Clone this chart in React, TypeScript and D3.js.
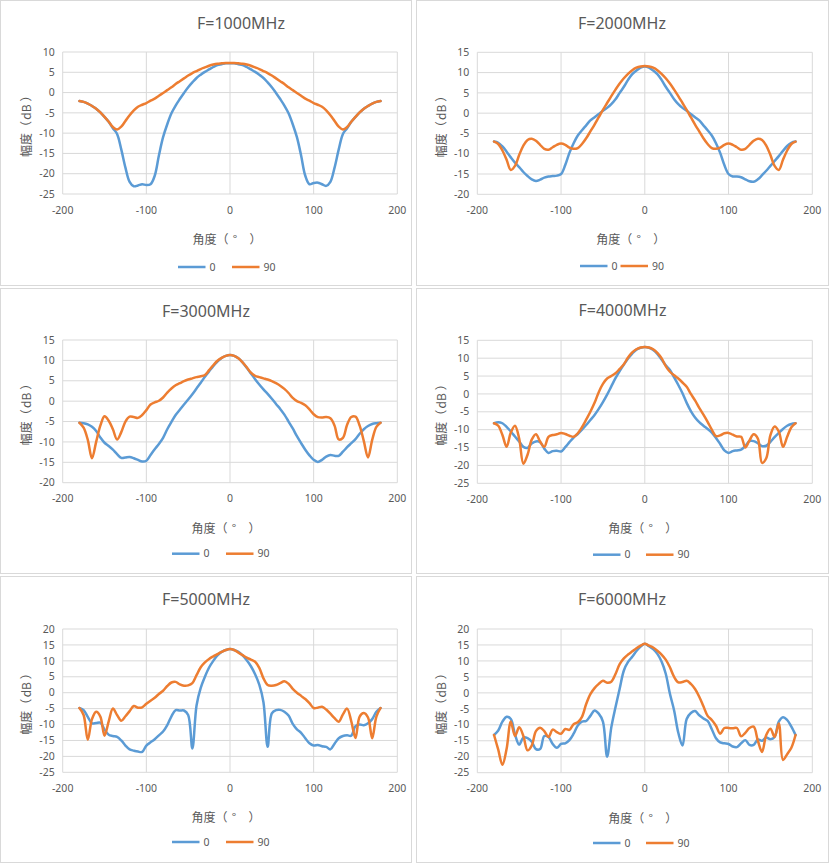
import { useEffect, useRef } from 'react';
import * as d3 from 'd3';

// sample angles (deg), shared by every series
const angles = [
  -180, -175, -170, -165, -160, -155, -150, -145, -140, -135,
  -130, -125, -120, -115, -110, -105, -100, -95, -90, -85,
  -80, -75, -70, -65, -60, -55, -50, -45, -40, -35,
  -30, -25, -20, -15, -10, -5, 0,
  5, 10, 15, 20, 25, 30, 35, 40, 45, 50,
  55, 60, 65, 70, 75, 80, 85, 90, 95, 100,
  105, 110, 115, 120, 125, 130, 135, 140, 145, 150,
  155, 160, 165, 170, 175, 180,
];

const titles = ['F=1000MHz', 'F=2000MHz', 'F=3000MHz', 'F=4000MHz', 'F=5000MHz', 'F=6000MHz'];
const seriesNames = ['0', '90'];
const xTicks = [-200, -100, 0, 100, 200];
const yDomains: [number, number][] = [
  [-25, 10],
  [-20, 15],
  [-20, 15],
  [-25, 15],
  [-25, 20],
  [-25, 20],
];
// axis titles, split into glyphs so the full-width brackets keep their width
const xLabelGlyphs = ['角', '度', '（', '°', '）'];
const yLabelGlyphs = ['幅', '度', '（', 'dB', '）'];

const pol0_1000 = [
  -2.1, -2.3, -2.7, -3.3, -4.0, -4.9, -6.0, -7.2, -8.8, -10.2,
  -14.0, -18.5, -22.0, -23.1, -22.9, -22.6, -22.8, -22.6, -20.5, -15.5,
  -11.0, -7.8, -5.1, -3.2, -1.6, -0.1, 1.3, 2.5, 3.6, 4.4,
  5.1, 5.7, 6.3, 6.8, 7.0, 7.2, 7.2,
  7.2, 7.0, 6.8, 6.3, 5.7, 5.1, 4.4, 3.6, 2.5, 1.3,
  -0.1, -1.6, -3.2, -5.1, -7.8, -11.0, -15.5, -20.5, -22.6, -22.3,
  -22.2, -22.6, -23.0, -22.0, -18.5, -14.0, -10.2, -8.8, -7.2, -6.0,
  -4.9, -4.0, -3.3, -2.7, -2.3, -2.1,
];
const pol90_1000 = [
  -2.1, -2.3, -2.7, -3.3, -4.0, -4.9, -6.0, -7.2, -8.5, -9.1,
  -8.4, -7.0, -5.6, -4.4, -3.5, -3.0, -2.6, -2.0, -1.5, -0.8,
  -0.1, 0.6, 1.3, 2.1, 2.8, 3.5, 4.2, 4.8, 5.3, 5.8,
  6.2, 6.6, 6.9, 7.1, 7.2, 7.3, 7.3,
  7.3, 7.2, 7.1, 6.9, 6.6, 6.2, 5.8, 5.3, 4.8, 4.2,
  3.5, 2.8, 2.1, 1.3, 0.6, -0.1, -0.8, -1.5, -2.0, -2.6,
  -3.0, -3.5, -4.4, -5.6, -7.0, -8.4, -9.1, -8.5, -7.2, -6.0,
  -4.9, -4.0, -3.3, -2.7, -2.3, -2.1,
];

const pol0_2000 = [
  -7.0, -7.3, -8.2, -9.5, -10.9, -12.2, -13.3, -14.5, -15.5, -16.3,
  -16.7, -16.4, -15.9, -15.6, -15.5, -15.4, -15.0, -12.8, -9.8, -7.4,
  -5.5, -4.2, -3.0, -1.8, -1.0, -0.2, 0.6, 1.3, 2.2, 3.4,
  5.0, 6.5, 8.2, 9.6, 10.5, 11.2, 11.5,
  11.2, 10.5, 9.6, 8.2, 6.5, 5.0, 3.4, 2.2, 1.3, 0.6,
  -0.2, -1.0, -1.8, -3.0, -4.2, -5.5, -7.4, -9.8, -12.8, -15.0,
  -15.6, -15.6, -15.8, -16.3, -16.8, -16.9, -16.3, -15.3, -14.2, -13.0,
  -11.8, -10.6, -9.3, -8.1, -7.3, -7.0,
];
const pol90_2000 = [
  -7.0, -7.6, -9.2, -11.5, -14.0, -13.0, -10.3, -8.0, -6.6, -6.3,
  -6.8, -7.8, -8.8, -9.0, -8.4, -7.8, -7.5, -7.8, -8.5, -8.8,
  -8.6, -7.6, -6.2, -4.5, -2.8, -1.0, 0.8, 2.5, 4.2, 5.8,
  7.3, 8.6, 9.7, 10.6, 11.2, 11.5, 11.6,
  11.5, 11.2, 10.6, 9.7, 8.6, 7.3, 5.8, 4.2, 2.5, 0.8,
  -1.0, -2.8, -4.5, -6.2, -7.6, -8.6, -8.8, -8.5, -7.8, -7.5,
  -7.8, -8.4, -9.0, -8.8, -7.8, -6.8, -6.3, -6.6, -8.0, -10.3,
  -13.0, -14.0, -11.5, -9.2, -7.6, -7.0,
];

const pol0_3000 = [
  -5.3, -5.4, -5.7, -6.3, -7.3, -8.9, -10.2, -11.0, -11.9, -13.0,
  -13.9, -13.8, -13.7, -14.0, -14.4, -14.8, -14.6, -13.2, -11.8, -10.5,
  -9.0, -6.9, -5.1, -3.4, -2.1, -0.8, 0.4, 1.7, 3.1, 4.5,
  6.0, 7.3, 8.6, 9.7, 10.6, 11.1, 11.3,
  11.1, 10.5, 9.5, 8.2, 6.8, 5.4, 4.1, 2.9, 1.8, 0.6,
  -0.7, -1.9, -3.3, -5.0, -6.7, -8.6, -10.3, -11.9, -13.3, -14.4,
  -14.9, -14.4, -13.6, -13.2, -13.4, -13.4, -12.4, -11.3, -10.3, -9.3,
  -8.0, -6.9, -6.1, -5.6, -5.4, -5.3,
];
const pol90_3000 = [
  -5.3, -6.5, -9.5, -14.0, -10.0, -6.0, -3.7, -4.8, -6.9, -9.4,
  -7.6, -5.0, -3.8, -3.9, -4.1, -3.4, -2.2, -0.8, -0.3, 0.1,
  0.9, 2.1, 3.1, 3.9, 4.4, 4.9, 5.3, 5.6, 5.9, 6.1,
  6.4, 7.6, 8.8, 9.9, 10.6, 11.1, 11.3,
  11.1, 10.5, 9.5, 8.3, 7.0, 6.2, 5.9, 5.6, 5.3, 4.9,
  4.4, 3.8, 3.0, 2.0, 0.8, 0.0, -0.4, -1.0, -2.0, -3.2,
  -3.9, -4.0, -3.9, -4.2, -6.0, -9.4, -9.0, -5.8, -3.9, -3.8,
  -6.0, -9.8, -13.8, -9.5, -6.3, -5.3,
];

const pol0_4000 = [
  -8.2, -7.9, -8.2, -9.2, -10.5, -11.9, -13.3, -14.8, -15.1, -13.9,
  -13.3, -13.5, -15.3, -16.5, -16.0, -15.9, -16.1, -14.9, -13.5, -12.2,
  -11.2, -10.0, -8.7, -7.3, -5.9, -4.2, -2.3, -0.2, 2.1, 4.4,
  6.4, 8.2, 9.9, 11.3, 12.4, 12.9, 13.1,
  12.9, 12.3, 11.2, 9.6, 8.0, 6.7, 4.6, 2.5, 0.2, -2.5,
  -4.8, -6.6, -7.9, -8.9, -9.8, -10.8, -12.3, -14.0, -15.8, -16.5,
  -16.0, -15.8, -15.6, -14.6, -13.2, -13.2, -13.8, -14.6, -14.5, -13.4,
  -12.1, -10.9, -9.8, -8.9, -8.4, -8.2,
];
const pol90_4000 = [
  -8.2, -8.9, -11.5, -14.8, -10.8, -8.9, -12.5, -19.5, -17.0, -12.8,
  -11.3, -13.3, -14.8, -12.0, -11.5, -11.3, -10.9, -11.2, -11.7, -12.0,
  -11.0, -9.3, -7.2, -5.0, -2.5, 0.5, 2.8, 4.3, 5.0, 5.8,
  7.0, 8.3, 10.2, 11.6, 12.5, 13.0, 13.1,
  13.0, 12.5, 11.5, 10.0, 7.8, 6.2, 5.2, 4.3, 3.2, 2.0,
  0.0, -1.8, -3.9, -5.8, -7.8, -10.0, -11.8, -11.6, -11.0, -10.9,
  -11.4, -11.9, -12.0, -15.0, -13.0, -11.3, -12.5, -19.3, -18.0, -11.5,
  -9.1, -10.5, -14.8, -12.0, -9.3, -8.2,
];

const pol0_5000 = [
  -4.8, -5.5, -7.6, -9.6, -9.5, -9.4, -11.6, -13.2, -13.6, -13.9,
  -15.0, -16.6, -17.8, -18.2, -18.5, -18.6, -16.6, -15.6, -14.6, -13.4,
  -12.2, -10.2, -7.4, -5.5, -5.6, -5.6, -7.0, -17.5, -4.0, 1.5,
  5.0, 7.9, 10.0, 11.7, 12.8, 13.4, 13.7,
  13.4, 12.8, 11.7, 10.2, 8.3, 5.8, 2.5, -3.0, -17.0, -6.5,
  -5.5, -5.4, -6.0, -7.2, -9.8, -11.5, -12.6, -14.3, -15.9, -16.6,
  -16.4, -16.8, -17.0, -17.8, -16.0, -14.3, -13.6, -13.4, -13.5, -10.5,
  -10.0, -10.2, -9.6, -8.3, -6.0, -4.8,
];
const pol90_5000 = [
  -4.8, -7.0, -14.8, -8.3, -6.0, -7.5, -13.5, -9.0, -5.0, -7.0,
  -8.8, -7.4, -5.8, -4.2, -4.7, -4.6, -3.5, -2.5, -1.6, -0.4,
  0.6, 2.1, 3.2, 3.4, 2.6, 2.2, 2.3, 3.0, 5.5, 8.0,
  9.5, 10.6, 11.4, 12.1, 12.8, 13.4, 13.7,
  13.4, 12.6, 11.8, 11.0, 10.4, 9.7, 7.8, 4.5, 2.4, 2.2,
  2.4, 3.0, 3.6, 2.8, 1.2, 0.0, -1.0, -2.0, -3.3, -4.8,
  -4.7, -4.4, -5.3, -6.6, -8.0, -9.1, -6.8, -5.0, -9.0, -14.2,
  -7.5, -6.4, -7.8, -14.3, -7.5, -4.8,
];

const pol0_6000 = [
  -13.2, -11.8, -9.0, -7.5, -8.2, -13.0, -16.2, -14.0, -14.2, -15.3,
  -17.6, -17.6, -13.5, -13.8, -16.0, -17.2, -16.0, -15.8, -14.8, -12.8,
  -10.2, -9.0, -8.8, -7.2, -5.5, -6.5, -9.0, -20.0, -10.8, -4.5,
  1.3, 7.0, 9.7, 11.3, 13.1, 14.5, 15.4,
  14.6, 13.7, 12.2, 9.8, 6.0, -0.3, -5.5, -12.5, -16.5, -8.2,
  -6.3, -5.7, -7.0, -8.0, -8.8, -11.4, -14.2, -15.5, -15.8, -16.0,
  -16.8, -17.0, -15.8, -14.8, -16.3, -16.3, -14.6, -15.0, -14.0, -14.5,
  -13.8, -9.0, -7.6, -8.5, -10.6, -13.2,
];
const pol90_6000 = [
  -13.2, -17.8, -22.5, -17.5, -9.0, -13.5, -10.8, -13.5, -18.0, -16.5,
  -12.0, -10.9, -12.0, -13.8, -11.5, -12.3, -12.8, -11.3, -11.6, -9.8,
  -9.2, -7.5, -3.5, -0.4, 1.5, 2.8, 3.8, 3.2, 3.5, 5.9,
  9.0, 10.8, 12.0, 13.0, 14.0, 14.8, 15.4,
  14.8, 14.2, 13.2, 12.0, 10.4, 8.0, 5.0, 3.3, 3.4, 3.8,
  2.8, 1.2, -1.2, -4.2, -7.2, -8.5, -10.3, -12.8, -11.0, -11.0,
  -11.1, -11.0, -13.6, -12.5, -11.0, -10.6, -15.0, -18.5, -13.2, -11.2,
  -13.8, -9.6, -21.0, -19.2, -17.2, -13.2,
];

const pol0Series = [pol0_1000, pol0_2000, pol0_3000, pol0_4000, pol0_5000, pol0_6000];
const pol90Series = [pol90_1000, pol90_2000, pol90_3000, pol90_4000, pol90_5000, pol90_6000];

const COLORS = ['#5b9bd5', '#ed7d31'];
const TEXT = '#595959';
const GRID = '#d9d9d9';
const LATIN = '"Noto Sans", "Noto Sans CJK SC", sans-serif';
const CJK = '"Noto Sans CJK SC", "Noto Sans", sans-serif';

// glyph centres along each axis title (px from the title's reference point)
const xGlyphOffsets = [-31.5, -19.5, -7.5, 5, 25.5];
const yGlyphOffsets = [-28, -16, -4, 11, 27.5];

// panel frames and plot areas in page pixels
const layout = [
  { box: [0.5, 0.5, 411, 285], plot: [62.7, 52, 397.3, 194], titleX: 241, titleY: 29, legendY: 267, legendX: [178, 232], xTitleDx: 0 },
  { box: [416.5, 0.5, 412, 285], plot: [477.3, 52.3, 812.3, 194.3], titleX: 622, titleY: 28.5, legendY: 266, legendX: [580, 620.5], xTitleDx: -11 },
  { box: [0.5, 288.5, 411, 285], plot: [62.7, 340, 397.3, 482.7], titleX: 206, titleY: 316.7, legendY: 553.7, legendX: [172, 226], xTitleDx: -1 },
  { box: [416.5, 288.5, 412, 285], plot: [477.3, 340.3, 812.3, 483.3], titleX: 622.5, titleY: 316, legendY: 554.7, legendX: [593, 646], xTitleDx: 1 },
  { box: [0.5, 576.5, 411, 286], plot: [62.7, 629, 397.3, 772.3], titleX: 206, titleY: 604.7, legendY: 842, legendX: [172, 226], xTitleDx: -1 },
  { box: [416.5, 576.5, 412, 286], plot: [477.3, 629, 812.3, 772.7], titleX: 622, titleY: 604.7, legendY: 843, legendX: [593, 646], xTitleDx: 1 },
];

export default function App() {
  const svgRef = useRef<SVGSVGElement>(null);

  useEffect(() => {
    if (!svgRef.current) return;
    const svg = d3.select(svgRef.current);
    svg.selectAll('*').remove();

    svg.append('rect').attr('width', 829).attr('height', 863).attr('fill', '#fff');

    layout.forEach((p, k) => {
      const [bx, by, bw, bh] = p.box;
      const [left, top, right, bottom] = p.plot;
      const [yMin, yMax] = yDomains[k];

      const g = svg.append('g');

      g.append('rect')
        .attr('x', bx)
        .attr('y', by)
        .attr('width', bw)
        .attr('height', bh)
        .attr('fill', '#fff')
        .attr('stroke', GRID)
        .attr('stroke-width', 1);

      const x = d3.scaleLinear().domain([-200, 200]).range([left, right]);
      const y = d3.scaleLinear().domain([yMin, yMax]).range([bottom, top]);
      const yTicks = d3.range(yMin, yMax + 0.01, 5);

      // grid
      g.append('g')
        .selectAll('line')
        .data(yTicks)
        .join('line')
        .attr('x1', left)
        .attr('x2', right)
        .attr('y1', (d) => y(d))
        .attr('y2', (d) => y(d))
        .attr('stroke', GRID)
        .attr('stroke-width', 1);

      g.append('g')
        .selectAll('line')
        .data(xTicks)
        .join('line')
        .attr('x1', (d) => x(d))
        .attr('x2', (d) => x(d))
        .attr('y1', top)
        .attr('y2', bottom)
        .attr('stroke', GRID)
        .attr('stroke-width', 1);

      // tick labels
      g.append('g')
        .selectAll('text')
        .data(yTicks)
        .join('text')
        .attr('x', left - 8)
        .attr('y', (d) => y(d))
        .attr('dy', '0.35em')
        .attr('text-anchor', 'end')
        .attr('font-family', LATIN)
        .attr('font-size', '10.5px')
        .attr('fill', TEXT)
        .text((d) => String(d));

      g.append('g')
        .selectAll('text')
        .data(xTicks)
        .join('text')
        .attr('x', (d) => x(d))
        .attr('y', bottom + 19.5)
        .attr('text-anchor', 'middle')
        .attr('font-family', LATIN)
        .attr('font-size', '10.5px')
        .attr('fill', TEXT)
        .text((d) => String(d));

      // series
      const line = d3
        .line<number>()
        .x((_, i) => x(angles[i]))
        .y((d) => y(d))
        .curve(d3.curveCatmullRom.alpha(0.5));

      [pol0Series[k], pol90Series[k]].forEach((values, s) => {
        g.append('path')
          .datum(values)
          .attr('fill', 'none')
          .attr('stroke', COLORS[s])
          .attr('stroke-width', 2.5)
          .attr('stroke-linejoin', 'round')
          .attr('stroke-linecap', 'round')
          .attr('d', line);
      });

      // title
      g.append('text')
        .attr('x', p.titleX)
        .attr('y', p.titleY)
        .attr('text-anchor', 'middle')
        .attr('font-family', LATIN)
        .attr('font-size', '16px')
        .attr('fill', TEXT)
        .text(titles[k]);

      // x axis title: one text, one tspan per glyph
      const xt = g
        .append('text')
        .attr('transform', `translate(${(left + right) / 2 + p.xTitleDx},${bottom + 44})`)
        .attr('dominant-baseline', 'central')
        .attr('text-anchor', 'middle')
        .attr('font-family', CJK)
        .attr('font-size', '12px')
        .attr('fill', TEXT);
      xt.selectAll('tspan')
        .data(xLabelGlyphs)
        .join('tspan')
        .attr('x', (_, i) => xGlyphOffsets[i])
        .attr('y', 0)
        .text((d) => d);

      // y axis title
      const yt = g
        .append('text')
        .attr('transform', `translate(${left - 37.5},${(top + bottom) / 2}) rotate(-90)`)
        .attr('dominant-baseline', 'central')
        .attr('text-anchor', 'middle')
        .attr('font-family', CJK)
        .attr('font-size', '12px')
        .attr('fill', TEXT);
      yt.selectAll('tspan')
        .data(yLabelGlyphs)
        .join('tspan')
        .attr('x', (_, i) => yGlyphOffsets[i])
        .attr('y', 0)
        .text((d) => d);

      // legend
      seriesNames.forEach((name, s) => {
        const lx = p.legendX[s];
        g.append('line')
          .attr('x1', lx)
          .attr('x2', lx + 27.5)
          .attr('y1', p.legendY)
          .attr('y2', p.legendY)
          .attr('stroke', COLORS[s])
          .attr('stroke-width', 2.5);
        g.append('text')
          .attr('x', lx + 31.5)
          .attr('y', p.legendY)
          .attr('dy', '0.35em')
          .attr('font-family', LATIN)
          .attr('font-size', '10.5px')
          .attr('fill', TEXT)
          .text(name);
      });
    });
  }, []);

  return (
    <svg
      ref={svgRef}
      width={829}
      height={863}
      style={{ position: 'absolute', left: 0, top: 0, display: 'block' }}
    />
  );
}
